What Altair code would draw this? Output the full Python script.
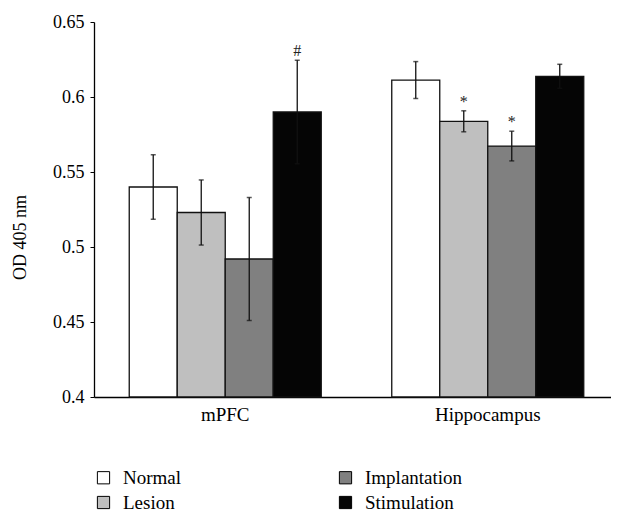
import altair as alt
import pandas as pd

groups = ["mPFC", "Hippocampus"]
conditions = ["Normal", "Lesion", "Implantation", "Stimulation"]
means_mpfc = [0.540, 0.523, 0.492, 0.590]
errs_mpfc = [0.0215, 0.0217, 0.041, 0.0345]
means_hippo = [0.6113, 0.5838, 0.5673, 0.6138]
errs_hippo = [0.0123, 0.0070, 0.0099, 0.0080]
annot_mpfc = ["", "", "", "#"]
annot_hippo = ["", "*", "*", ""]
colors = ["#ffffff", "#bfbfbf", "#808080", "#050505"]
y_ticks = [0.4, 0.45, 0.5, 0.55, 0.6, 0.65]

rows = []
for g, ms, es, an in [("mPFC", means_mpfc, errs_mpfc, annot_mpfc),
                      ("Hippocampus", means_hippo, errs_hippo, annot_hippo)]:
    for c, m, e, a in zip(conditions, ms, es, an):
        rows.append({"group": g, "cond": c, "mean": m, "lo": m - e, "hi": m + e, "annot": a})
df = pd.DataFrame(rows)

FONT = "Liberation Serif"

x = alt.X("group:N", sort=groups, title=None,
          scale=alt.Scale(paddingInner=0.2686, paddingOuter=0.119, align=0.564),
          axis=alt.Axis(labelAngle=0, ticks=False, domainColor="black", domainWidth=1.3,
                        labelFontSize=19, labelFont=FONT, labelColor="black", labelPadding=8))
xo = alt.XOffset("cond:N", sort=conditions, scale=alt.Scale(paddingInner=0, paddingOuter=0))

base = alt.Chart(df)

bars = base.mark_bar(stroke="#111111", strokeWidth=1.3).encode(
    x=x, xOffset=xo,
    y=alt.Y("mean:Q", title="OD 405 nm",
            scale=alt.Scale(domain=[0.4, 0.65], nice=False, zero=False),
            axis=alt.Axis(values=y_ticks, format=".2~f", grid=False, tickSize=4,
                          tickColor="black", domainColor="black", domainWidth=1.3,
                          labelFontSize=18, labelFont=FONT, labelColor="black", labelPadding=6,
                          titleFontSize=18, titleFont=FONT, titleFontWeight="normal",
                          titleColor="black", titleX=-74, titleY=215, titleBaseline="middle")),
    y2=alt.Y2(datum=0.4),
    fill=alt.Fill("cond:N", scale=alt.Scale(domain=conditions, range=colors),
                  legend=alt.Legend(title=None, orient="none", legendX=0, legendY=446,
                                    columns=2, columnPadding=154, rowPadding=5,
                                    symbolType="square", symbolSize=150,
                                    symbolStrokeColor="black", symbolStrokeWidth=1,
                                    labelFontSize=19, labelFont=FONT, labelColor="black",
                                    labelOffset=10)),
)

rules = base.mark_rule(color="#111111", strokeWidth=1.3).encode(
    x=x, xOffset=xo, y="lo:Q", y2="hi:Q")
cap_lo = base.mark_tick(color="#111111", orient="horizontal", size=5, thickness=1.5).encode(
    x=x, xOffset=xo, y="lo:Q")
cap_hi = base.mark_tick(color="#111111", orient="horizontal", size=5, thickness=1.5).encode(
    x=x, xOffset=xo, y="hi:Q")
texts = base.mark_text(font=FONT, fontSize=16, color="#222222", baseline="bottom", dy=-1).encode(
    x=x, xOffset=xo, y="hi:Q", text="annot:N")

chart = alt.layer(bars, rules, cap_lo, cap_hi, texts).properties(
    width=517, height=375,
    autosize=alt.AutoSizeParams(type="none"),
    padding={"left": 86, "top": 14, "right": 0, "bottom": 125},
).configure_view(stroke=None).configure_axis(labelFont=FONT)

chart.save("out.html", embed_options={"renderer": "svg", "actions": False})
